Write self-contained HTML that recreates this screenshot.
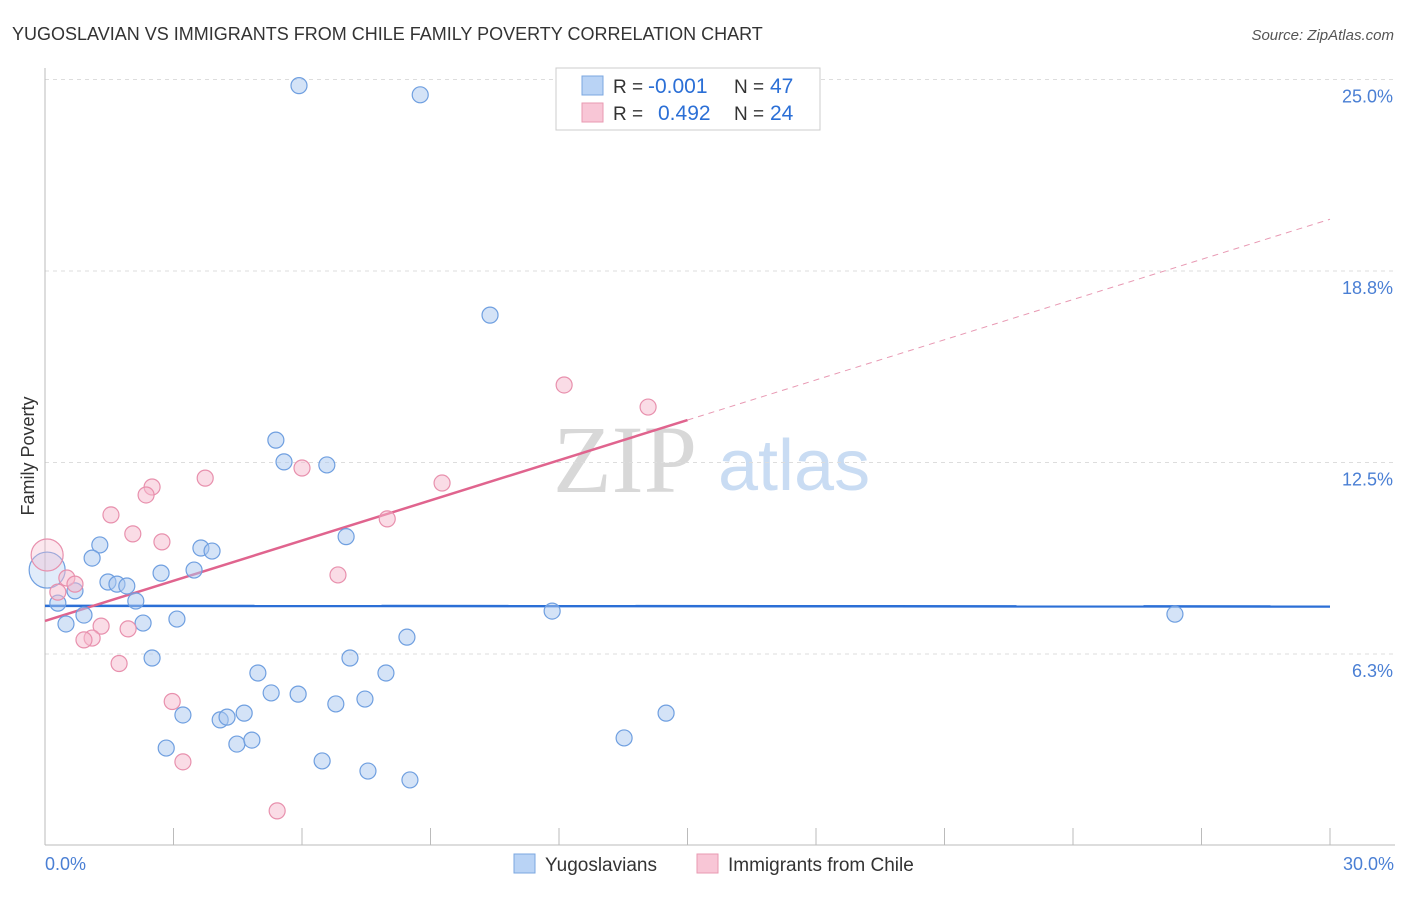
<!DOCTYPE html>
<html><head><meta charset="utf-8"><style>
body{margin:0;background:#fff;font-family:"Liberation Sans",sans-serif;}
svg text{font-family:"Liberation Sans",sans-serif;}
</style></head><body>
<svg id="chart" width="1406" height="892">
<text x="12" y="40" font-size="18" fill="#333">YUGOSLAVIAN VS IMMIGRANTS FROM CHILE FAMILY POVERTY CORRELATION CHART</text>
<text x="1394" y="40" font-size="15" fill="#555" font-style="italic" text-anchor="end">Source: ZipAtlas.com</text>
<g>
<text x="553" y="492" font-size="96" style="font-family:'Liberation Serif',serif" fill="#d8d8d8">ZIP</text>
<text x="718" y="490" font-size="72" fill="#c9dcf3">atlas</text>
</g>
<g id="grid"></g>
<g id="axes"></g>
<text transform="translate(34,456) rotate(-90)" font-size="18" fill="#333" text-anchor="middle">Family Poverty</text>
<text x="45" y="870" font-size="18" fill="#4a7fd4">0.0%</text>
<text x="1394" y="870" font-size="18" fill="#4a7fd4" text-anchor="end">30.0%</text>
<g id="lines"></g>
<g id="points"></g>
<g>
<rect x="556" y="68" width="264" height="62" fill="#fff" stroke="#ccc"/>
<rect x="582" y="76" width="21" height="19" fill="#b9d3f5" stroke="#7ba7e0"/>
<rect x="582" y="103" width="21" height="19" fill="#f8c6d6" stroke="#e89ab2"/>
<text x="613" y="93" font-size="19" fill="#333">R =</text>
<text x="648" y="93" font-size="21" fill="#2b6fd6">-0.001</text>
<text x="734" y="93" font-size="19" fill="#333">N =</text>
<text x="770" y="93" font-size="21" fill="#2b6fd6">47</text>
<text x="613" y="120" font-size="19" fill="#333">R =</text>
<text x="658" y="120" font-size="21" fill="#2b6fd6">0.492</text>
<text x="734" y="120" font-size="19" fill="#333">N =</text>
<text x="770" y="120" font-size="21" fill="#2b6fd6">24</text>
</g>
<g>
<rect x="514" y="854" width="21" height="19" fill="#b9d3f5" stroke="#7ba7e0"/>
<text x="545" y="871" font-size="19" fill="#333">Yugoslavians</text>
<rect x="697" y="854" width="21" height="19" fill="#f8c6d6" stroke="#e89ab2"/>
<text x="728" y="871" font-size="19" fill="#333">Immigrants from Chile</text>
</g>
</svg>
<script>
const yTicks=[6.25,12.5,18.75,25];
const yTickLabels=["6.3%","12.5%","18.8%","25.0%"];
const blueX=[5.93,8.76,10.39,5.39,5.58,6.58,7.03,1.28,1.10,3.64,3.90,1.47,1.68,1.91,2.71,3.48,0.70,0.30,2.12,0.91,0.49,2.29,3.08,11.84,26.38,8.45,2.50,7.12,4.97,7.96,5.28,5.91,6.79,7.47,3.22,4.09,4.25,4.65,14.50,2.83,4.48,4.83,13.52,6.47,7.54,8.52,0.05];
const blueY=[24.8,24.5,17.31,13.23,12.52,12.42,10.08,9.81,9.38,9.71,9.61,8.60,8.53,8.47,8.89,8.99,8.31,7.91,7.98,7.52,7.23,7.26,7.39,7.65,7.55,6.80,6.12,6.12,5.63,5.63,4.98,4.94,4.62,4.78,4.26,4.10,4.19,4.32,4.32,3.18,3.31,3.44,3.51,2.76,2.43,2.14,8.99];
const pinkX=[0.05,0.51,0.70,0.30,1.54,2.50,2.36,2.05,2.73,3.74,6.00,9.27,7.99,6.84,12.12,14.08,1.31,1.10,0.91,1.94,1.73,2.97,3.22,5.42];
const pinkY=[9.48,8.73,8.53,8.27,10.79,11.70,11.44,10.17,9.91,11.99,12.32,11.83,10.66,8.83,15.03,14.31,7.16,6.77,6.71,7.07,5.94,4.70,2.73,1.13];
const blueTrend=[7.82,7.80];
const pinkTrend=[7.33,0.437];
const NS="http://www.w3.org/2000/svg";
const xs=v=>45+v/30*1285;
const ys=v=>845.5-v*30.64;
function mk(tag,attrs,parent){const e=document.createElementNS(NS,tag);for(const k in attrs)e.setAttribute(k,attrs[k]);document.getElementById(parent).appendChild(e);return e;}
yTicks.forEach((t,i)=>{
 const g=mk('line',{x1:45,x2:1395,y1:ys(t),y2:ys(t),stroke:'#ddd','stroke-dasharray':'4,4'},'grid');
 
 
 const l=mk('text',{x:1393,y:ys(t)+23,'font-size':18,fill:'#4a7fd4','text-anchor':'end'},'grid');
 l.textContent=yTickLabels[i];
 
 
});
const ax=mk('line',{x1:45,x2:45,y1:68,y2:845,stroke:'#bbb'},'axes');


const bx=mk('line',{x1:45,x2:1395,y1:845,y2:845,stroke:'#bbb'},'axes');


for(let i=0;i<=10;i++){
 const t=mk('line',{x1:xs(i*3),x2:xs(i*3),y1:828,y2:845,stroke:'#bbb'},'axes');
 
 
}
function pt(x,y,r,fill,stroke,name){
 const c=mk('circle',{cx:xs(x),cy:ys(y),r:r,fill:fill,stroke:stroke,'stroke-width':1.2},'points');
 
 
}
blueX.forEach((x,i)=>pt(x,blueY[i],i===blueX.length-1?18:8,i===blueX.length-1?'rgba(170,200,240,0.35)':'rgba(170,200,240,0.5)','#6f9fe0','point-yugoslavian'));
pinkX.forEach((x,i)=>pt(x,pinkY[i],i===0?16:8,i===0?'rgba(246,185,205,0.35)':'rgba(246,185,205,0.5)','#e890ad','point-chile'));
const bl=mk('line',{x1:xs(0),x2:xs(30),y1:ys(blueTrend[0]),y2:ys(blueTrend[1]),stroke:'#2b6fd6','stroke-width':2.5},'lines');


const pf=x=>pinkTrend[0]+pinkTrend[1]*x;
const pl=mk('line',{x1:xs(0),x2:xs(15),y1:ys(pf(0)),y2:ys(pf(15)),stroke:'#e0648e','stroke-width':2.5},'lines');


const pd=mk('line',{x1:xs(15),x2:xs(30),y1:ys(pf(15)),y2:ys(pf(30)),stroke:'#e899b3','stroke-width':1,'stroke-dasharray':'6,5'},'lines');


</script>
</body></html>
